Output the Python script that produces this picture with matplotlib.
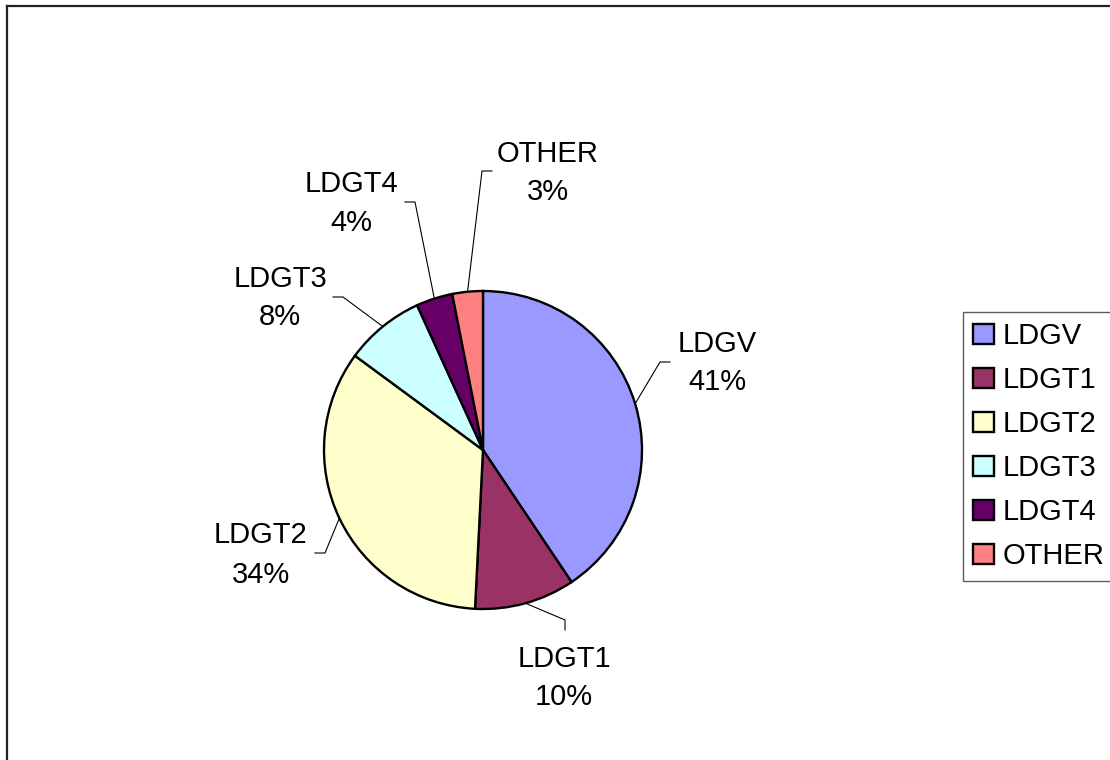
import numpy as np
import matplotlib.pyplot as plt
from matplotlib.lines import Line2D

plt.rcParams['font.family'] = ['Liberation Sans', 'DejaVu Sans']

# data
categories = ["LDGV", "LDGT1", "LDGT2", "LDGT3", "LDGT4", "OTHER"]
shares = [40.6, 10.2, 34.3, 8.1, 3.7, 3.1]
colors = ["#9999FF", "#993366", "#FFFFCC", "#CCFFFF", "#660066", "#FF8080"]

# layout (pixel coords, y from top)
W, H = 1110, 760
cx, cy, r = 483, 450, 159
# elbow of leader line, end of leader line, label x, name baseline, pct baseline
elbows = [(660, 362), (565, 620), (325, 553), (343, 297), (415, 202), (482, 171)]
ends = [(670, 362), (565, 630), (315, 553), (333, 297), (405, 202), (492, 171)]
label_x = [717, 564, 261, 280, 351, 548]
name_base = [352, 667, 543, 287, 192, 162]
pct_base = [390, 705, 583, 325, 231, 200]
fs = 21


def Y(y):
    return H - y


fig = plt.figure(figsize=(W / 100, H / 100), dpi=100)
ax = fig.add_axes([0, 0, 1, 1])

wedges, _ = ax.pie(shares, colors=colors, startangle=90, counterclock=False,
                   center=(cx, Y(cy)), radius=r,
                   wedgeprops=dict(edgecolor="black", linewidth=1.7))
ax.set_xlim(0, W)
ax.set_ylim(0, H)
ax.set_aspect("equal")
ax.set_axis_off()

for i, w in enumerate(wedges):
    mid = np.deg2rad((w.theta1 + w.theta2) / 2)
    ex = cx + r * np.cos(mid)
    ey = Y(cy) + r * np.sin(mid)
    bx, by = elbows[i]
    tx, ty = ends[i]
    ax.plot([ex, bx, tx], [ey, Y(by), Y(ty)], color="black", lw=0.8,
            zorder=0)
    ax.text(label_x[i], Y(name_base[i]), categories[i], ha="center",
            va="baseline", fontsize=fs)
    ax.text(label_x[i], Y(pct_base[i]), f"{round(shares[i])}%", ha="center",
            va="baseline", fontsize=fs)

leg = ax.legend(wedges, categories, loc="upper left",
                bbox_to_anchor=(963 / W, 1 - 312 / H),
                bbox_transform=fig.transFigure, borderaxespad=0,
                fontsize=fs, handlelength=0.7, handleheight=0.7,
                handletextpad=0.3, borderpad=0.35, labelspacing=0.55,
                fancybox=False, frameon=True)
leg.get_frame().set_edgecolor("#333333")
leg.get_frame().set_linewidth(1.0)

# outer chart frame (cropped at right and bottom)
fig.add_artist(Line2D([7 / W, 7 / W], [0, 1 - 6 / H], color="#222222",
                      lw=1.6, transform=fig.transFigure))
fig.add_artist(Line2D([7 / W, 1], [1 - 6 / H, 1 - 6 / H], color="#222222",
                      lw=1.6, transform=fig.transFigure))

fig.savefig("out.png", dpi=100)
